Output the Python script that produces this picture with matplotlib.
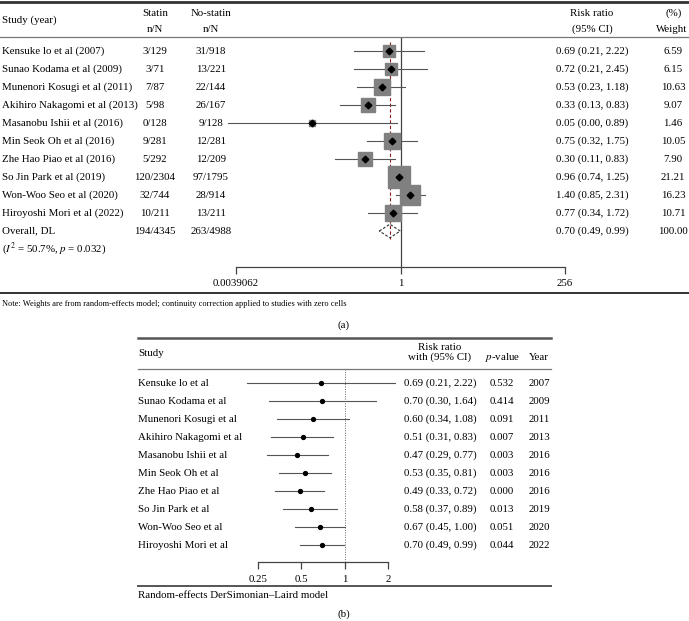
import numpy as np
import matplotlib
matplotlib.use('Agg')
import matplotlib.pyplot as plt
from matplotlib.lines import Line2D
from matplotlib.transforms import blended_transform_factory

plt.rcParams['font.family'] = ['Liberation Serif', 'DejaVu Serif']
plt.rcParams['mathtext.fontset'] = 'stix'

# ---- panel (a): individual studies ----
studies_a = ['Kensuke lo et al (2007)', 'Sunao Kodama et al (2009)', 'Munenori Kosugi et al (2011)',
             'Akihiro Nakagomi et al (2013)', 'Masanobu Ishii et al (2016)', 'Min Seok Oh et al (2016)',
             'Zhe Hao Piao et al (2016)', 'So Jin Park et al (2019)', 'Won-Woo Seo et al (2020)',
             'Hiroyoshi Mori et al (2022)']
statin_a = ['3/129', '3/71', '7/87', '5/98', '0/128', '9/281', '5/292', '120/2304', '32/744', '10/211']
nostatin_a = ['31/918', '13/221', '22/144', '26/167', '9/128', '12/281', '12/209', '97/1795', '28/914', '13/211']
rr_a = [0.69, 0.72, 0.53, 0.33, 0.05, 0.75, 0.30, 0.96, 1.40, 0.77]
lo_a = [0.21, 0.21, 0.23, 0.13, 0.003, 0.32, 0.11, 0.74, 0.85, 0.34]
hi_a = [2.22, 2.45, 1.18, 0.83, 0.89, 1.75, 0.83, 1.25, 2.31, 1.72]
weight_a = [6.59, 6.15, 10.63, 9.07, 1.46, 10.05, 7.90, 21.21, 16.23, 10.71]
overall_label = 'Overall, DL'
overall_statin = '194/4345'
overall_nostatin = '263/4988'
overall_rr, overall_lo, overall_hi, overall_w = 0.70, 0.49, 0.99, 100.00
het_text = r'($I^2$ = 50.7%, $p$ = 0.032)'
ticks_a = [2 ** -8, 1, 256]
ticklabels_a = ['0.0039062', '1', '256']

# ---- panel (b): cumulative meta-analysis ----
studies_b = ['Kensuke lo et al', 'Sunao Kodama et al', 'Munenori Kosugi et al', 'Akihiro Nakagomi et al',
             'Masanobu Ishii et al', 'Min Seok Oh et al', 'Zhe Hao Piao et al', 'So Jin Park et al',
             'Won-Woo Seo et al', 'Hiroyoshi Mori et al']
rr_b = [0.69, 0.70, 0.60, 0.51, 0.47, 0.53, 0.49, 0.58, 0.67, 0.70]
lo_b = [0.21, 0.30, 0.34, 0.31, 0.29, 0.35, 0.33, 0.37, 0.45, 0.49]
hi_b = [2.22, 1.64, 1.08, 0.83, 0.77, 0.81, 0.72, 0.89, 1.00, 0.99]
pval_b = ['0.532', '0.414', '0.091', '0.007', '0.003', '0.003', '0.000', '0.013', '0.051', '0.044']
year_b = [2007, 2009, 2011, 2013, 2016, 2016, 2016, 2019, 2020, 2022]
ticks_b = [0.25, 0.5, 1, 2]
ticklabels_b = ['0.25', '0.5', '1', '2']

W, H = 689, 621
fig = plt.figure(figsize=(W / 100, H / 100), dpi=100)


def fx(px):
    return px / W


def fy(py):
    return 1 - py / H


def hline(x0, x1, py, lw=1.0, color='#444444'):
    fig.add_artist(Line2D([fx(x0), fx(x1)], [fy(py), fy(py)], transform=fig.transFigure,
                          lw=lw, color=color))


FS = 7.8
FSB = 7.8
ROW = 18

# ================= panel (a) =================
top_a, axis_a, first_a = 37, 267, 51
ax_a = fig.add_axes([fx(236), fy(axis_a), fx(565) - fx(236), (axis_a - top_a) / H])
ax_a.set_xscale('log', base=2)
ax_a.set_xlim(2 ** -8, 2 ** 8)
ax_a.set_ylim((axis_a - first_a) / ROW, (top_a - first_a) / ROW)
for s in ['top', 'right', 'left']:
    ax_a.spines[s].set_visible(False)
ax_a.spines['bottom'].set_color('#444444')
ax_a.spines['bottom'].set_linewidth(0.9)
ax_a.set_yticks([])
ax_a.set_xticks(ticks_a)
ax_a.set_xticklabels(ticklabels_a, fontsize=FS)
ax_a.xaxis.set_minor_locator(matplotlib.ticker.NullLocator())
ax_a.tick_params(axis='x', direction='out', length=5, width=0.9, color='#444444', pad=4)
ax_a.patch.set_visible(False)

ax_a.axvline(1, color='#444444', lw=0.9)
n = len(studies_a)
ax_a.plot([overall_rr, overall_rr], [-0.5, n + 0.42], ls=(0, (3, 2)), color='#8b1a1a', lw=0.8)
for i in range(n):
    ax_a.plot([lo_a[i], hi_a[i]], [i, i], color='#555555', lw=0.8, clip_on=False)
    side_pt = 4.8 * np.sqrt(weight_a[i]) * 0.72
    ax_a.plot(rr_a[i], i, marker='s', ms=side_pt, color='#808080', mec='#808080', zorder=2, clip_on=False)
    ax_a.plot(rr_a[i], i, marker='D', ms=3.4, color='black', zorder=3, clip_on=False)
ax_a.fill([overall_lo, overall_rr, overall_hi, overall_rr], [n, n - 0.38, n, n + 0.38],
          facecolor='none', edgecolor='#333333', ls=(0, (2.5, 1.5)), lw=0.8, zorder=4)

tr_a = blended_transform_factory(fig.transFigure, ax_a.transData)
rows_lab = studies_a + [overall_label]
rows_st = statin_a + [overall_statin]
rows_ns = nostatin_a + [overall_nostatin]
rows_rr = rr_a + [overall_rr]
rows_lo = lo_a + [overall_lo]
rows_hi = hi_a + [overall_hi]
rows_w = weight_a + [overall_w]
for i in range(n + 1):
    ax_a.text(fx(2), i, rows_lab[i], transform=tr_a, fontsize=FS, va='center', ha='left')
    ax_a.text(fx(155), i, rows_st[i], transform=tr_a, fontsize=FS, va='center', ha='center')
    ax_a.text(fx(211), i, rows_ns[i], transform=tr_a, fontsize=FS, va='center', ha='center')
    ax_a.text(fx(592), i, f'{rows_rr[i]:.2f} ({rows_lo[i]:.2f}, {rows_hi[i]:.2f})', transform=tr_a,
              fontsize=FS, va='center', ha='center')
    ax_a.text(fx(673), i, f'{rows_w[i]:.2f}', transform=tr_a, fontsize=FS, va='center', ha='center')
ax_a.text(fx(2), n + 1, het_text, transform=tr_a, fontsize=FS, va='center', ha='left')

# headers
fig.text(fx(2), fy(20), 'Study (year)', fontsize=FS, va='center', ha='left')
fig.text(fx(155), fy(13), 'Statin', fontsize=FS, va='center', ha='center')
fig.text(fx(155), fy(29), 'n/N', fontsize=FS, va='center', ha='center')
fig.text(fx(211), fy(13), 'No-statin', fontsize=FS, va='center', ha='center')
fig.text(fx(211), fy(29), 'n/N', fontsize=FS, va='center', ha='center')
fig.text(fx(592), fy(13), 'Risk ratio', fontsize=FS, va='center', ha='center')
fig.text(fx(592), fy(29), '(95% CI)', fontsize=FS, va='center', ha='center')
fig.text(fx(674), fy(13), '(%)', fontsize=FS, va='center', ha='center')
fig.text(fx(672), fy(29), 'Weight', fontsize=FS, va='center', ha='center')

hline(0, W, 1.5, lw=2.0, color='#333333')
hline(0, W, 37, lw=0.9, color='#777777')
hline(0, W, 293, lw=1.4, color='#333333')
fig.text(fx(2), fy(304), 'Note: Weights are from random-effects model; continuity correction applied to studies with zero cells',
         fontsize=6.0, va='center', ha='left')
fig.text(fx(344), fy(325), '(a)', fontsize=FS, va='center', ha='center')

# ================= panel (b) =================
top_b, axis_b, first_b = 369, 562, 383
ax_b = fig.add_axes([fx(258), fy(axis_b), fx(388) - fx(258), (axis_b - top_b) / H])
ax_b.set_xscale('log', base=2)
ax_b.set_xlim(0.25, 2)
ax_b.set_ylim((axis_b - first_b) / ROW, (top_b - first_b) / ROW)
for s in ['top', 'right', 'left']:
    ax_b.spines[s].set_visible(False)
ax_b.spines['bottom'].set_color('#444444')
ax_b.spines['bottom'].set_linewidth(0.9)
ax_b.set_yticks([])
ax_b.set_xticks(ticks_b)
ax_b.set_xticklabels(ticklabels_b, fontsize=FS)
ax_b.xaxis.set_minor_locator(matplotlib.ticker.NullLocator())
ax_b.tick_params(axis='x', direction='out', length=5, width=0.9, color='#444444', pad=4)
ax_b.patch.set_visible(False)
ax_b.axvline(1, color='#666666', lw=0.7, ls=(0, (1, 1.5)))

tr_b = blended_transform_factory(fig.transFigure, ax_b.transData)
for i in range(len(studies_b)):
    ax_b.plot([lo_b[i], hi_b[i]], [i, i], color='#555555', lw=0.8, clip_on=False)
    ax_b.plot(rr_b[i], i, marker='o', ms=2.8, color='black', clip_on=False)
    ax_b.text(fx(138), i, studies_b[i], transform=tr_b, fontsize=FSB, va='center', ha='left')
    ax_b.text(fx(440), i, f'{rr_b[i]:.2f} ({lo_b[i]:.2f}, {hi_b[i]:.2f})', transform=tr_b,
              fontsize=FSB, va='center', ha='center')
    ax_b.text(fx(502), i, pval_b[i], transform=tr_b, fontsize=FSB, va='center', ha='center')
    ax_b.text(fx(539), i, str(year_b[i]), transform=tr_b, fontsize=FSB, va='center', ha='center')

fig.text(fx(138), fy(353), 'Study', fontsize=FS, va='center', ha='left')
fig.text(fx(440), fy(347), 'Risk ratio', fontsize=FS, va='center', ha='center')
fig.text(fx(440), fy(357), 'with (95% CI)', fontsize=FS, va='center', ha='center')
fig.text(fx(503), fy(358), r'$p$-value', fontsize=FS, va='center', ha='center')
fig.text(fx(539), fy(358), 'Year', fontsize=FS, va='center', ha='center')

hline(138, 551, 338, lw=1.8, color='#555555')
hline(138, 551, 369, lw=0.9, color='#777777')
hline(138, 551, 586, lw=1.4, color='#555555')
fig.text(fx(138), fy(596), 'Random-effects DerSimonian\u2013Laird model', fontsize=FS, va='center', ha='left')
fig.text(fx(344), fy(614), '(b)', fontsize=FS, va='center', ha='center')

fig.savefig('out.png', dpi=100)
